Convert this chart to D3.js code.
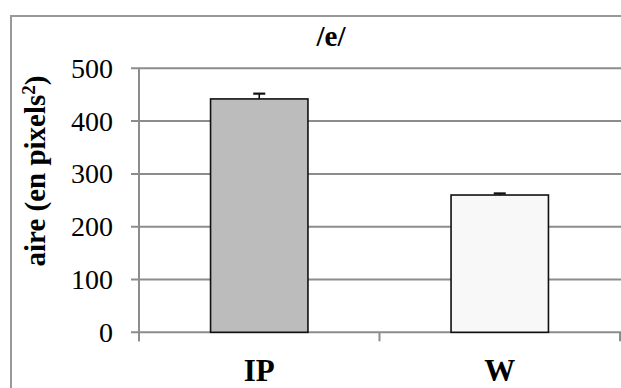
<!DOCTYPE html>
<html>
<head>
<meta charset="utf-8">
<script src="https://cdn.jsdelivr.net/npm/d3@7"></script>
<style>
  html, body { margin: 0; padding: 0; background: #fff; }
  svg { display: block; }
</style>
</head>
<body>
<svg id="chart" width="621" height="388"></svg>
<script>
// Mean area per condition, with standard error
const categories = ["IP", "W"];
const values = [442, 260];
const errors = [10, 3];
const barColors = ["#bcbcbc", "#f8f8f8"];
const yTicks = [0, 100, 200, 300, 400, 500];
const title = "/e/";

const svg = d3.select("#chart")
  .attr("font-family", "'Liberation Serif', 'Times New Roman', Times, serif");
const axisX = 139;
const plotRight = 620;
const gridColor = "#8c8c8c";

// Outer chart frame
svg.append("rect")
  .attr("x", 11).attr("y", 16)
  .attr("width", 640).attr("height", 400)
  .attr("fill", "none").attr("stroke", "#999").attr("stroke-width", 2);

const x = d3.scaleBand().domain(categories).range([axisX, plotRight]);
const y = d3.scaleLinear().domain([0, 500]).range([332.3, 68.3]);

// Horizontal gridlines
svg.append("g").selectAll("line").data(yTicks).join("line")
  .attr("x1", axisX - 8).attr("x2", 621)
  .attr("y1", d => y(d)).attr("y2", d => y(d))
  .attr("stroke", gridColor).attr("stroke-width", 2);

// Y axis line
svg.append("line")
  .attr("x1", axisX).attr("x2", axisX)
  .attr("y1", y(500)).attr("y2", y(0) + 9)
  .attr("stroke", gridColor).attr("stroke-width", 2);

// Category boundary ticks
const bounds = [axisX, x("W"), x("W") + x.bandwidth()];
svg.append("g").selectAll("line").data(bounds).join("line")
  .attr("x1", d => d).attr("x2", d => d)
  .attr("y1", y(0)).attr("y2", y(0) + 9)
  .attr("stroke", gridColor).attr("stroke-width", 2);

// Y tick labels
svg.append("g").selectAll("text").data(yTicks).join("text")
  .attr("x", 113).attr("y", d => y(d))
  .attr("dy", "0.34em")
  .attr("text-anchor", "end")
  .attr("font-size", 28)
  .text(d => d);

// Bars
const barW = x.bandwidth() * 0.405;
const data = categories.map((c, i) => ({ c, v: values[i], e: errors[i], col: barColors[i] }));
svg.append("g").selectAll("rect").data(data).join("rect")
  .attr("x", d => x(d.c) + (x.bandwidth() - barW) / 2)
  .attr("y", d => y(d.v))
  .attr("width", barW)
  .attr("height", d => y(0) - y(d.v))
  .attr("fill", d => d.col)
  .attr("stroke", "#111").attr("stroke-width", 1.6);

// Error bars (upper only)
const eb = svg.append("g").selectAll("g").data(data).join("g");
eb.append("line")
  .attr("x1", d => x(d.c) + x.bandwidth() / 2).attr("x2", d => x(d.c) + x.bandwidth() / 2)
  .attr("y1", d => y(d.v)).attr("y2", d => y(d.v + d.e))
  .attr("stroke", "#111").attr("stroke-width", 1.6);
eb.append("line")
  .attr("x1", d => x(d.c) + x.bandwidth() / 2 - 6).attr("x2", d => x(d.c) + x.bandwidth() / 2 + 6)
  .attr("y1", d => y(d.v + d.e)).attr("y2", d => y(d.v + d.e))
  .attr("stroke", "#111").attr("stroke-width", 2.2);

// Category labels
svg.append("g").selectAll("text").data(categories).join("text")
  .attr("x", d => x(d) + x.bandwidth() / 2)
  .attr("y", 381)
  .attr("text-anchor", "middle")
  .attr("font-size", 31).attr("font-weight", "bold")
  .text(d => d);

// Title
svg.append("text")
  .attr("x", 331).attr("y", 46)
  .attr("text-anchor", "middle")
  .attr("font-size", 29).attr("font-weight", "bold")
  .text(title);

// Y axis title with superscript
const yt = svg.append("text")
  .attr("transform", "translate(45,171) rotate(-90)")
  .attr("text-anchor", "middle")
  .attr("font-size", 29).attr("font-weight", "bold");
yt.append("tspan").text("aire (en pixels");
yt.append("tspan").attr("font-size", 19).attr("dy", -10).text("2");
yt.append("tspan").attr("dy", 10).text(")");
</script>
</body>
</html>
